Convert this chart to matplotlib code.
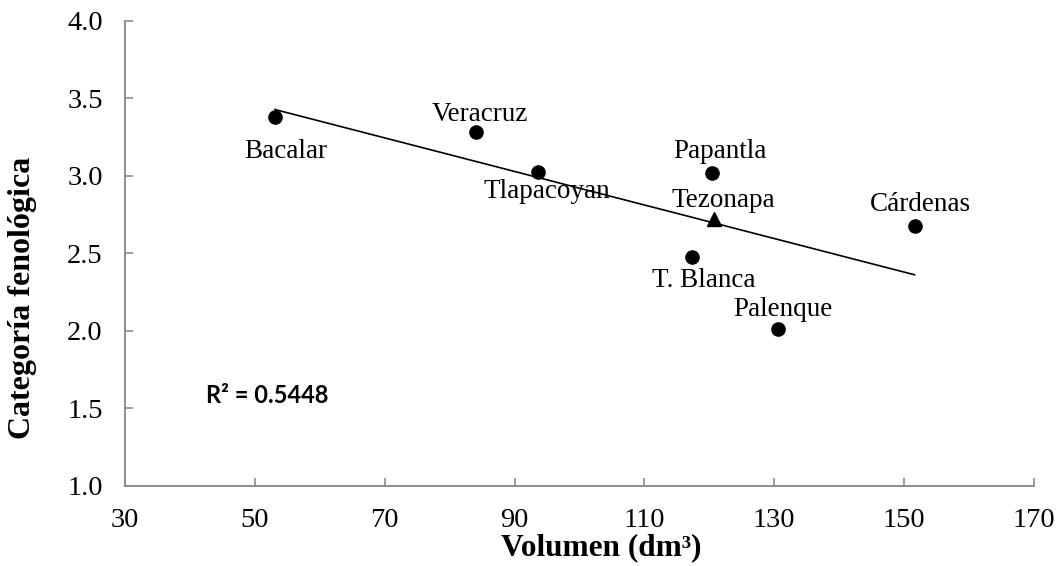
import numpy as np
import matplotlib
matplotlib.use("Agg")
from matplotlib import pyplot as plt

# datos: volumen (dm3) y categoria fenologica por procedencia
sitios = ["Bacalar", "Veracruz", "Tlapacoyan", "Papantla", "T. Blanca",
          "Palenque", "Cárdenas"]
volumen = [53.1, 84.1, 93.6, 120.4, 117.4, 130.6, 151.6]
categoria = [3.38, 3.28, 3.025, 3.015, 2.475, 2.01, 2.675]

# Tezonapa va con triangulo
tez_nombre = "Tezonapa"
tez_volumen = [120.7]
tez_categoria = [2.72]

x_ticks = [30, 50, 70, 90, 110, 130, 150, 170]
y_ticks = [1.0, 1.5, 2.0, 2.5, 3.0, 3.5, 4.0]

# desplazamiento de las etiquetas (pixeles)
offsets = {
    "Bacalar": (11, -35),
    "Veracruz": (4, 18),
    "Tlapacoyan": (9, -20),
    "Papantla": (8, 22),
    "Tezonapa": (9, 19),
    "T. Blanca": (11, -23),
    "Palenque": (5, 20),
    "Cárdenas": (6, 22),
}

plt.rcParams['font.family'] = ['Liberation Serif', 'DejaVu Serif']

fig = plt.figure(figsize=(10.58, 5.66), dpi=100)
ax = fig.add_axes([125 / 1058, 1 - 485.7 / 566, 909 / 1058, 465 / 566])

ax.plot(volumen, categoria, 'o', color='black', markersize=9.5, zorder=3)
ax.plot(tez_volumen, tez_categoria, '^', color='black', markersize=10, zorder=3)

# linea de tendencia con todos los puntos
xs = np.array(volumen + tez_volumen)
ys = np.array(categoria + tez_categoria)
m, b = np.polyfit(xs, ys, 1)
xl = np.array([xs.min(), xs.max()])
ax.plot(xl, m * xl + b, color='black', linewidth=1.2, zorder=2)

for nombre, xv, yv in zip(sitios + [tez_nombre], list(xs), list(ys)):
    dx, dy = offsets[nombre]
    ax.annotate(nombre, (xv, yv), xytext=(dx, dy), textcoords='offset pixels',
                ha='center', va='center', fontsize=19.5)

ax.text(42.5, 1.58, "R² = 0.5448", fontsize=17, fontweight='bold',
        family=['Lato', 'DejaVu Sans'], ha='left', va='center')

ax.set_xlim(30, 170)
ax.set_ylim(1.0, 4.0)
ax.set_xticks(x_ticks)
ax.set_yticks(y_ticks)
ax.set_yticklabels(["%.1f" % v for v in y_ticks])

for s in ['top', 'right']:
    ax.spines[s].set_visible(False)
for s in ['left', 'bottom']:
    ax.spines[s].set_color('#8c8c8c')
    ax.spines[s].set_linewidth(1.4)
ax.tick_params(direction='in', length=6, width=1.2, color='#8c8c8c',
               labelsize=20.5, pad=16)

fig.text(601 / 1058, 1 - 548 / 566, "Volumen (dm³)", fontsize=22.5,
         fontweight='bold', ha='center', va='center')
fig.text(23 / 1058, 1 - 298 / 566, "Categoría fenológica", fontsize=23,
         fontweight='bold', ha='center', va='center', rotation=90)

fig.savefig("out.png", dpi=100)
